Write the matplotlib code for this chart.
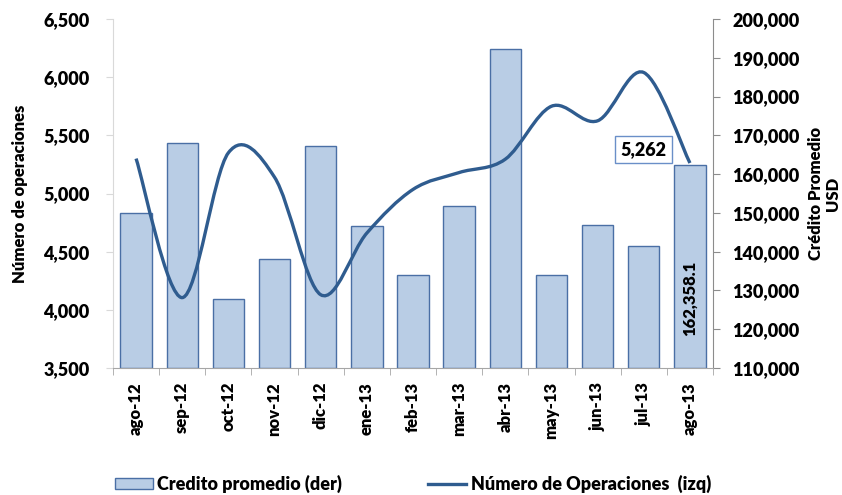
import matplotlib
matplotlib.use('Agg')

import matplotlib.pyplot as plt
import numpy as np
from matplotlib.path import Path
from matplotlib.patches import PathPatch, Patch
from matplotlib.lines import Line2D
from matplotlib.ticker import FuncFormatter

plt.rcParams['font.family'] = ['Lato', 'DejaVu Sans']
plt.rcParams['font.weight'] = 'heavy'
plt.rcParams['axes.labelweight'] = 'heavy'

months = ['ago-12', 'sep-12', 'oct-12', 'nov-12', 'dic-12', 'ene-13', 'feb-13',
          'mar-13', 'abr-13', 'may-13', 'jun-13', 'jul-13', 'ago-13']
credito = [150000, 167950, 127800, 138000, 167250, 146600, 134000,
           151700, 192200, 134000, 146950, 141500, 162358.1]
operaciones = [5300, 4105, 5350, 5140, 4130, 4660, 5035,
               5180, 5295, 5750, 5625, 6040, 5262]

bar_color = '#B9CDE5'
bar_edge = '#4A6FA5'
line_color = '#2F5C8F'


def smooth_path(x, y):
    # Excel style smoothed line: cubic bezier through the points
    pts = np.column_stack([x, y]).astype(float)
    n = len(pts)
    verts = [pts[0]]
    codes = [Path.MOVETO]
    for i in range(n - 1):
        p0 = pts[max(i - 1, 0)]
        p1 = pts[i]
        p2 = pts[i + 1]
        p3 = pts[min(i + 2, n - 1)]
        c1 = p1 + (p2 - p0) / 6.0
        c2 = p2 - (p3 - p1) / 6.0
        verts += [c1, c2, p2]
        codes += [Path.CURVE4] * 3
    return Path(verts, codes)


fig = plt.figure(figsize=(8.42, 4.95), dpi=100)
ax = fig.add_axes([113 / 842, 1 - 368 / 495, 600 / 842, 349 / 495])
ax2 = ax.twinx()

x = np.arange(len(months))

# bars on the right axis
ax2.bar(x, np.array(credito) - 110000, bottom=110000, width=0.68,
        color=bar_color, edgecolor=bar_edge, linewidth=1.0)
ax2.set_ylim(110000, 200000)
ax2.set_yticks(np.arange(110000, 200001, 10000))

# line on the left axis, drawn above the bars
ax.set_zorder(ax2.get_zorder() + 1)
ax.patch.set_visible(False)
ax.add_patch(PathPatch(smooth_path(x, operaciones), facecolor='none',
                       edgecolor=line_color, linewidth=2.4, capstyle='butt'))
ax.set_ylim(3500, 6500)
ax.set_yticks(np.arange(3500, 6501, 500))
ax.set_xlim(-0.5, len(months) - 0.5)

fmt = FuncFormatter(lambda v, p: f'{v:,.0f}')
ax.yaxis.set_major_formatter(fmt)
ax2.yaxis.set_major_formatter(fmt)

ax.set_xticks(x)
ax.set_xticklabels(months, rotation=90, fontsize=12)
ax.set_xticks(np.arange(-0.5, len(months)), minor=True)
ax.tick_params(axis='x', which='major', length=0, pad=10)
ax.tick_params(axis='x', which='minor', length=5, color='#A6A6A6', direction='out')
ax.tick_params(axis='y', labelsize=13, length=5, color='#D9D9D9', pad=12)
ax2.tick_params(axis='y', labelsize=13, length=5, color='#8C8C8C', pad=9)
ax2.tick_params(axis='x', length=0)

for a in (ax, ax2):
    a.spines['top'].set_visible(False)
ax.spines['right'].set_visible(False)
ax.spines['left'].set_color('#D9D9D9')
ax.spines['bottom'].set_color('#A6A6A6')
ax2.spines['left'].set_visible(False)
ax2.spines['bottom'].set_visible(False)
ax2.spines['right'].set_color('#8C8C8C')

ax.set_ylabel('Número de operaciones', fontsize=12, fontweight='heavy', labelpad=11)
ax2.set_ylabel('Crédito Promedio\nUSD', fontsize=12, fontweight='heavy',
               labelpad=6, linespacing=1.1)

# data labels
ax.text(11.0, 5378, f'{operaciones[-1]:,.0f}', ha='center', va='center',
        fontsize=13,
        bbox=dict(boxstyle='square,pad=0.3', facecolor='white',
                  edgecolor='#6A8FC8', linewidth=1.0))
ax2.text(12, 128000, f'{credito[-1]:,.1f}', ha='center', va='center',
         rotation=90, fontsize=12)

# legend below the plot
bar_handle = Patch(facecolor=bar_color, edgecolor=bar_edge, linewidth=1.0)
line_handle = Line2D([0], [0], color=line_color, linewidth=2.4)
leg1 = fig.legend([bar_handle], ['Credito promedio (der)'], loc='center left',
                  bbox_to_anchor=(115 / 842, 1 - 484 / 495), frameon=False,
                  borderpad=0, borderaxespad=0, handlelength=2.1,
                  handleheight=0.5, handletextpad=0.25,
                  prop={'weight': 'heavy', 'size': 13})
leg2 = fig.legend([line_handle], ['Número de Operaciones  (izq)'], loc='center left',
                  bbox_to_anchor=(428 / 842, 1 - 484 / 495), frameon=False,
                  borderpad=0, borderaxespad=0, handlelength=2.1,
                  handletextpad=0.3, prop={'weight': 'heavy', 'size': 13})

fig.savefig('out.png', dpi=100)
